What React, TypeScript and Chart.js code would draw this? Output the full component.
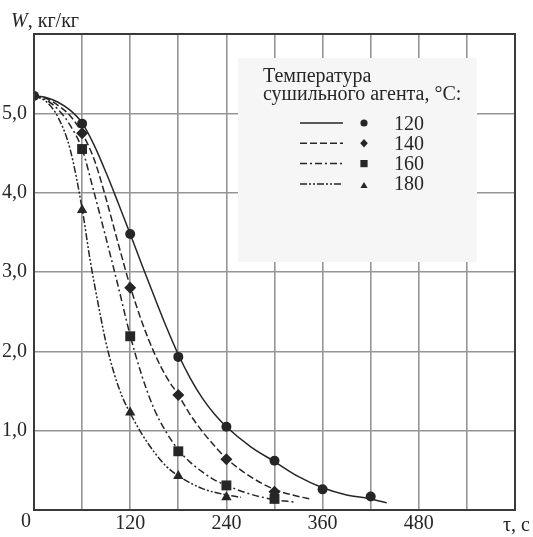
import React, { useEffect, useRef } from "react";
import { Chart, registerables } from "chart.js";

Chart.register(...registerables);

const FONT = '"Liberation Serif", "Times New Roman", serif';
const INK = "#262626";

// ---------- data ----------
const legendTitle = ["Температура", "сушильного агента, °С:"];
const seriesLabels = ["120", "140", "160", "180"];
const xLabelTicks = [120, 240, 360, 480];
const yLabelTicks = [1, 2, 3, 4, 5];
const yAxisTitle = "W";
const yAxisUnits = ", кг/кг";
const xAxisTitle = "τ, с";
const originLabel = "0";

// smooth drying curves (read at sample times)
const curveT120 = [0, 15, 30, 45, 60, 75, 90, 105, 120, 135, 150, 165, 180, 195, 210, 225, 240, 270, 300, 330, 360, 390, 420, 440];
const curveW120 = [5.22, 5.2, 5.14, 5.04, 4.88, 4.6, 4.25, 3.87, 3.48, 3.08, 2.69, 2.31, 1.96, 1.66, 1.41, 1.21, 1.05, 0.8, 0.61, 0.42, 0.28, 0.19, 0.14, 0.09];

const curveT140 = [0, 15, 30, 45, 60, 75, 90, 105, 120, 135, 150, 165, 180, 195, 210, 225, 240, 270, 300, 330, 345];
const curveW140 = [5.22, 5.19, 5.1, 4.97, 4.75, 4.42, 3.92, 3.36, 2.82, 2.36, 1.98, 1.68, 1.45, 1.2, 0.99, 0.81, 0.65, 0.42, 0.26, 0.17, 0.14];

const curveT160 = [0, 15, 30, 45, 60, 75, 90, 105, 120, 135, 150, 165, 180, 195, 210, 225, 240, 270, 300, 325];
const curveW160 = [5.22, 5.17, 5.05, 4.85, 4.55, 4.0, 3.42, 2.82, 2.2, 1.68, 1.27, 0.98, 0.76, 0.6, 0.48, 0.38, 0.31, 0.2, 0.13, 0.1];

const curveT180 = [0, 15, 30, 45, 60, 70, 80, 90, 100, 110, 120, 135, 150, 165, 180, 210, 240, 258];
const curveW180 = [5.22, 5.15, 4.95, 4.55, 3.8, 3.15, 2.6, 2.1, 1.72, 1.43, 1.22, 0.95, 0.73, 0.55, 0.43, 0.27, 0.19, 0.16];

// experimental points
const pointT120 = [0, 60, 120, 180, 240, 300, 360, 420];
const pointW120 = [5.22, 4.87, 3.48, 1.93, 1.05, 0.62, 0.26, 0.17];

const pointT140 = [60, 120, 180, 240, 300];
const pointW140 = [4.75, 2.8, 1.45, 0.64, 0.23];

const pointT160 = [60, 120, 180, 240, 300];
const pointW160 = [4.55, 2.19, 0.74, 0.31, 0.14];

const pointT180 = [60, 120, 180, 240];
const pointW180 = [3.78, 1.23, 0.43, 0.16];

// ---------- styles ----------
const dashes: number[][] = [[], [7, 3], [7, 3, 2, 3], [7, 2, 2, 2, 2, 2]];
const pointStyles = ["circle", "rectRot", "rect", "triangle"];
const pointRadii = [5, 6, 7, 6];

const zip = (xs: number[], ys: number[]) => xs.map((x, i) => ({ x, y: ys[i] }));

const curves = [
  zip(curveT120, curveW120),
  zip(curveT140, curveW140),
  zip(curveT160, curveW160),
  zip(curveT180, curveW180),
];
const points = [
  zip(pointT120, pointW120),
  zip(pointT140, pointW140),
  zip(pointT160, pointW160),
  zip(pointT180, pointW180),
];

function drawMarker(ctx: CanvasRenderingContext2D, style: string, x: number, y: number, r: number) {
  ctx.beginPath();
  if (style === "circle") {
    ctx.arc(x, y, r, 0, Math.PI * 2);
  } else if (style === "rectRot") {
    ctx.moveTo(x, y - r);
    ctx.lineTo(x + r * 0.9, y);
    ctx.lineTo(x, y + r);
    ctx.lineTo(x - r * 0.9, y);
    ctx.closePath();
  } else if (style === "rect") {
    ctx.rect(x - r, y - r, 2 * r, 2 * r);
  } else {
    ctx.moveTo(x, y - r * 1.1);
    ctx.lineTo(x + r, y + r * 0.6);
    ctx.lineTo(x - r, y + r * 0.6);
    ctx.closePath();
  }
  ctx.fill();
}

const decorPlugin = {
  id: "decor",
  afterDraw(chart: any) {
    const { ctx, chartArea, scales } = chart;
    const xs = scales.x;
    const ys = scales.y;
    ctx.save();

    // frame
    ctx.strokeStyle = "#3a3a3a";
    ctx.lineWidth = 2;
    ctx.setLineDash([]);
    ctx.strokeRect(chartArea.left, chartArea.top, chartArea.right - chartArea.left, chartArea.bottom - chartArea.top);

    // legend box (covers the grid)
    const bx = 238, by = 58, bw = 239, bh = 204;
    ctx.fillStyle = "#f6f6f6";
    ctx.fillRect(bx, by, bw, bh);

    ctx.fillStyle = INK;
    ctx.font = `20px ${FONT}`;
    ctx.textAlign = "left";
    ctx.textBaseline = "alphabetic";
    ctx.fillText(legendTitle[0], 263, 82);
    ctx.fillText(legendTitle[1], 263, 99.5);

    seriesLabels.forEach((lab, i) => {
      const base = 129.5 + i * 20.3;
      const cy = base - 6.5;
      ctx.strokeStyle = INK;
      ctx.lineWidth = 1.5;
      ctx.setLineDash(dashes[i]);
      ctx.beginPath();
      ctx.moveTo(300, cy);
      ctx.lineTo(343, cy);
      ctx.stroke();
      ctx.setLineDash([]);
      ctx.fillStyle = INK;
      const rr = [3.6, 4.2, 3.6, 3.6][i];
      drawMarker(ctx, pointStyles[i], 364, cy + (i === 3 ? 2 : 0), rr);
      ctx.fillStyle = INK;
      ctx.fillText(lab, 394, base);
    });

    // axis titles and origin label
    ctx.fillStyle = INK;
    ctx.font = `italic 20px ${FONT}`;
    ctx.fillText(yAxisTitle, 11, 27);
    const wW = ctx.measureText(yAxisTitle).width;
    ctx.font = `20px ${FONT}`;
    ctx.fillText(yAxisUnits, 11 + wW, 27);

    ctx.textAlign = "left";
    ctx.fillText(xAxisTitle, 503, 531);

    ctx.textAlign = "center";
    ctx.fillText(originLabel, xs.getPixelForValue(0) - 8, ys.getPixelForValue(0) + 17);

    ctx.restore();
  },
};

export default function App() {
  const ref = useRef<HTMLCanvasElement | null>(null);

  useEffect(() => {
    const canvas = ref.current;
    if (!canvas) return;
    document.body.style.margin = "0";

    const datasets: any[] = [];
    points.forEach((pts, i) => {
      datasets.push({
        type: "scatter",
        label: "pts" + seriesLabels[i],
        data: pts,
        showLine: false,
        pointStyle: pointStyles[i],
        pointRadius: pointRadii[i],
        pointBackgroundColor: INK,
        pointBorderColor: INK,
        pointBorderWidth: 0,
        order: i === 1 ? 0 : 1 + i,
      });
    });
    curves.forEach((pts, i) => {
      datasets.push({
        type: "line",
        label: seriesLabels[i],
        data: pts,
        borderColor: INK,
        borderWidth: 1.5,
        borderDash: dashes[i],
        pointRadius: 0,
        fill: false,
        cubicInterpolationMode: "monotone",
        order: 10 + i,
      });
    });

    const chart = new Chart(canvas, {
      type: "scatter",
      data: { datasets },
      options: {
        responsive: false,
        animation: false,
        devicePixelRatio: 1,
        layout: { padding: { left: 0, top: 34, right: 18, bottom: 0 } },
        plugins: { legend: { display: false }, tooltip: { enabled: false } },
        scales: {
          x: {
            type: "linear",
            min: 0,
            max: 600,
            afterFit: (s: any) => {
              s.height = 27;
            },
            ticks: {
              stepSize: 60,
              autoSkip: false,
              maxRotation: 0,
              padding: 2,
              color: INK,
              font: { family: FONT, size: 20 },
              callback: (v: any) => (xLabelTicks.includes(Number(v)) ? String(v) : ""),
            },
            grid: { color: "#959595", lineWidth: 1.6, drawTicks: false },
            border: { display: false },
          },
          y: {
            type: "linear",
            min: 0,
            max: 6,
            afterFit: (s: any) => {
              s.width = 34;
            },
            ticks: {
              stepSize: 1,
              autoSkip: false,
              padding: 7,
              color: INK,
              font: { family: FONT, size: 20 },
              callback: (v: any) =>
                yLabelTicks.includes(Number(v)) ? Number(v).toFixed(1).replace(".", ",") : "",
            },
            grid: { color: "#959595", lineWidth: 1.6, drawTicks: false },
            border: { display: false },
          },
        },
      },
      plugins: [decorPlugin],
    });

    return () => chart.destroy();
  }, []);

  return (
    <div style={{ position: "fixed", left: 0, top: 0, width: 533, height: 537, background: "#fff" }}>
      <canvas ref={ref} width={533} height={537} style={{ display: "block", width: 533, height: 537 }} />
    </div>
  );
}
